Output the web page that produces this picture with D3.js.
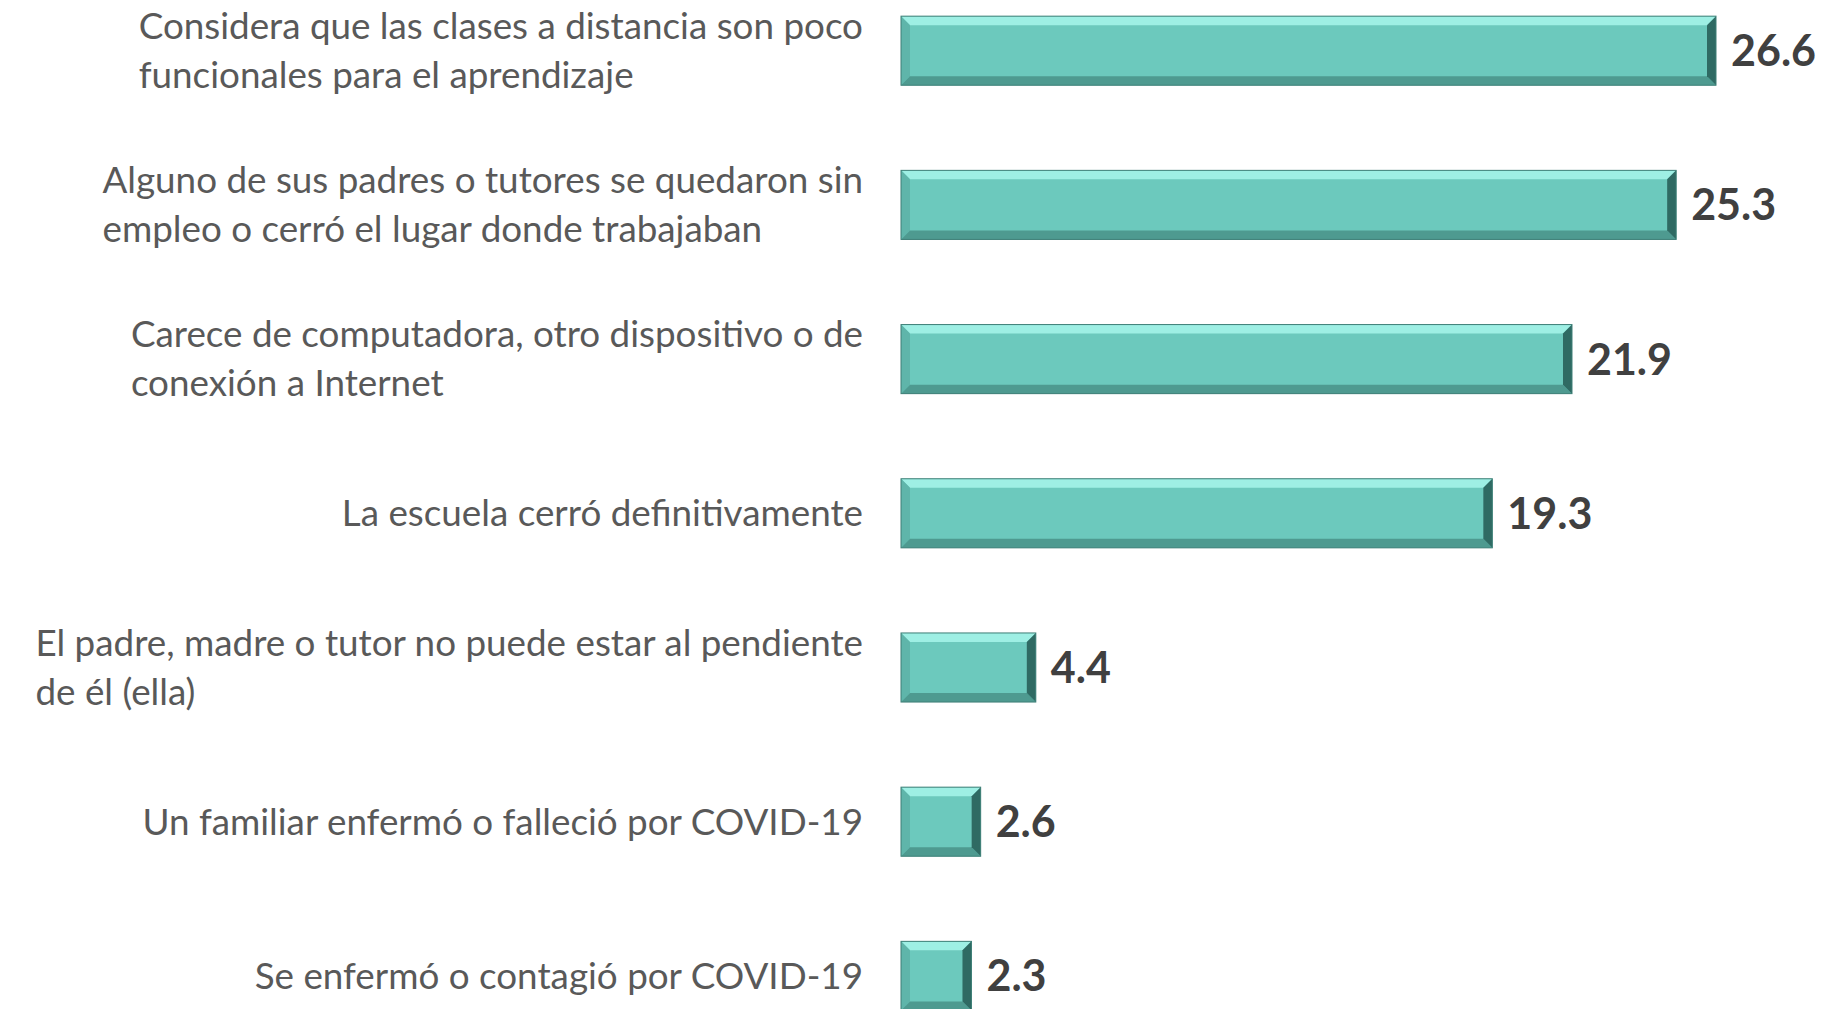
<!DOCTYPE html>
<html>
<head>
<meta charset="utf-8">
<script src="https://cdn.jsdelivr.net/npm/d3@7"></script>
<style>
  body { margin: 0; background: #fff; }
  div.chart { width: 1827px; height: 1009px; }
</style>
</head>
<body>
<div class="chart"></div>
<script>
var categories = [
  ["Considera que las clases a distancia son poco", "funcionales para el aprendizaje"],
  ["Alguno de sus padres o tutores se quedaron sin", "empleo o cerró el lugar donde trabajaban"],
  ["Carece de computadora, otro dispositivo o de", "conexión a Internet"],
  ["La escuela cerró definitivamente"],
  ["El padre, madre o tutor no puede estar al pendiente", "de él (ella)"],
  ["Un familiar enfermó o falleció por COVID-19"],
  ["Se enfermó o contagió por COVID-19"]
];
var values = [26.6, 25.3, 21.9, 19.3, 4.4, 2.6, 2.3];

drawChart();

function drawChart(){
    var w = 1827, h = 1009;
    var margin = {top: 0, right: 0, bottom: 0, left: 901};

    var svg = d3.select("div.chart")
              .append("svg")
              .attr("width", w)
              .attr("height", h);

    var idx = d3.range(values.length);

    //band scale, 7 rows with a fixed step
    var y = d3.scaleBand()
              .domain(idx)
              .range([-26.4, -26.4 + 154.2*7])
              .paddingInner(0.552)
              .paddingOuter(0.276);

    var x = d3.scaleLinear()
              .domain([0, 26.6])
              .range([margin.left, 1716]);

    var bev = 9;
    var g = svg.append("g");

    var bars = g.selectAll(".bar")
        .data(idx)
        .enter()
        .append("g")
        .attr("class", "bar");

    function poly(pts){ return pts.map(function(p){ return p.join(","); }).join(" "); }

    bars.each(function(i){
        var x0 = x(0), x1 = x(values[i]);
        var y0 = y(i), y1 = y(i) + y.bandwidth();
        var b = Math.min(bev, (x1-x0)/3);
        var sel = d3.select(this);
        // main face
        sel.append("rect")
           .attr("x", x0).attr("y", y0)
           .attr("width", x1-x0).attr("height", y1-y0)
           .attr("fill", "#6cc9bd");
        // top bevel
        sel.append("polygon")
           .attr("points", poly([[x0,y0],[x1,y0],[x1-b,y0+b],[x0+b,y0+b]]))
           .attr("fill", "#9eefe4");
        // left bevel
        sel.append("polygon")
           .attr("points", poly([[x0,y0],[x0+b,y0+b],[x0+b,y1-b],[x0,y1]]))
           .attr("fill", "#5fb5aa");
        // bottom bevel
        sel.append("polygon")
           .attr("points", poly([[x0,y1],[x0+b,y1-b],[x1-b,y1-b],[x1,y1]]))
           .attr("fill", "#4e9a90");
        // right bevel
        sel.append("polygon")
           .attr("points", poly([[x1,y0],[x1,y1],[x1-b,y1-b],[x1-b,y0+b]]))
           .attr("fill", "#2f6a63");
        sel.append("rect")
           .attr("x", x0).attr("y", y0)
           .attr("width", x1-x0).attr("height", y1-y0)
           .attr("fill", "none")
           .attr("stroke", "#3f7f77")
           .attr("stroke-width", 1);
    });

    // value labels
    g.selectAll(".val")
        .data(idx)
        .enter()
        .append("text")
        .attr("class", "val")
        .attr("x", function(i){ return x(values[i]) + 15; })
        .attr("y", function(i){ return y(i) + y.bandwidth()/2; })
        .attr("dy", "0.36em")
        .attr("font-family", "Lato, sans-serif")
        .attr("font-weight", "bold")
        .attr("font-size", 43)
        .attr("fill", "#404040")
        .text(function(i){ return values[i].toFixed(1); });

    // category labels, lines left aligned, block pushed against the bars
    var lineH = 49;
    var labels = g.selectAll(".lab")
        .data(idx)
        .enter()
        .append("text")
        .attr("class", "lab")
        .attr("font-family", "Lato, sans-serif")
        .attr("font-size", 36.8)
        .attr("fill", "#595959");

    labels.each(function(i){
        var t = d3.select(this);
        var lines = categories[i];
        var cy = y(i) + y.bandwidth()/2 - (lines.length-1)*lineH/2;
        lines.forEach(function(l, k){
            t.append("tspan")
             .attr("x", 0)
             .attr("y", cy + k*lineH)
             .attr("dy", "0.35em")
             .text(l);
        });
        var bw = this.getBBox().width;
        t.selectAll("tspan").attr("x", 863 - bw);
    });
}
</script>
</body>
</html>
